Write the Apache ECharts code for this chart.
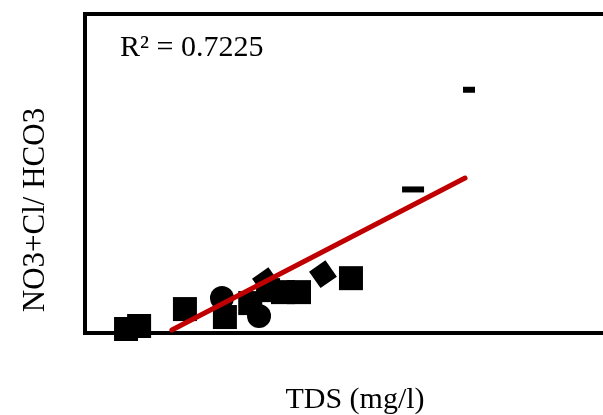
<!DOCTYPE html>
<html>
<head>
<meta charset="utf-8">
<script src="https://cdn.jsdelivr.net/npm/echarts@6/dist/echarts.min.js"></script>
<style>
  html, body { margin: 0; padding: 0; background: #fff; }
  #chart { width: 603px; height: 415px; }
</style>
</head>
<body>
<div id="chart"></div>
<script>
// TDS (mg/l) vs NO3+Cl/HCO3
var squarePts = [[154, 0.02], [203, 0.035], [375, 0.12], [525, 0.08], [620, 0.15],
                 [687, 0.215], [743, 0.205], [803, 0.205], [998, 0.275]];
var circlePts = [[514, 0.175], [653, 0.085]];
var diamondPts = [[679, 0.26], [893, 0.295]];
var dashPts = [[1231, 0.72], [1441, 1.22]];
// linear trend line ends
var trendPts = [[326, 0.015], [1426, 0.777]];
var r2Text = 'R² = 0.7225';

var chart = echarts.init(document.getElementById('chart'));

var option = {
    animation: false,
    backgroundColor: '#fff',
    grid: {
        left: 85, top: 14, width: 533, height: 319,
        outerBoundsMode: 'none', containLabel: false,
        show: true, borderColor: '#000', borderWidth: 4, backgroundColor: 'transparent'
    },
    xAxis: {
        type: 'value', min: 0, max: 2000,
        axisLine: { show: false }, axisTick: { show: false },
        axisLabel: { show: false }, splitLine: { show: false }
    },
    yAxis: {
        type: 'value', min: 0, max: 1.6,
        axisLine: { show: false }, axisTick: { show: false },
        axisLabel: { show: false }, splitLine: { show: false }
    },
    series: [
        {
            type: 'line', data: trendPts, symbol: 'none', z: 3,
            lineStyle: { color: '#c00000', width: 5, cap: 'round' }
        },
        {
            type: 'scatter', data: squarePts, symbol: 'rect', symbolSize: 24, clip: false,
            itemStyle: { color: '#000', opacity: 1 }
        },
        {
            type: 'scatter', data: circlePts, symbol: 'circle', symbolSize: 24, clip: false,
            itemStyle: { color: '#000', opacity: 1 }
        },
        {
            type: 'scatter', data: diamondPts, symbol: 'rect', symbolSize: 20, symbolRotate: 35, clip: false,
            itemStyle: { color: '#000', opacity: 1 }
        },
        {
            type: 'scatter', data: dashPts, symbol: 'rect', clip: false,
            symbolSize: function (v, p) { return p.dataIndex === 0 ? [22, 6] : [12, 6]; },
            itemStyle: { color: '#000', opacity: 1 }
        }
    ],
    graphic: [
        {
            type: 'text', x: 120, y: 48,
            style: { text: r2Text, font: '30px "Liberation Serif"', fill: '#000',
                     textAlign: 'left', textVerticalAlign: 'middle' }
        },
        {
            type: 'text', x: 36, y: 210, rotation: Math.PI / 2,
            style: { text: 'NO3+Cl/ HCO3', font: '31px "Liberation Serif"', fill: '#000',
                     textAlign: 'center', textVerticalAlign: 'middle' }
        },
        {
            type: 'text', x: 355, y: 400,
            style: { text: 'TDS (mg/l)', font: '30px "Liberation Serif"', fill: '#000',
                     textAlign: 'center', textVerticalAlign: 'middle' }
        }
    ]
};

chart.setOption(option);
</script>
</body>
</html>
